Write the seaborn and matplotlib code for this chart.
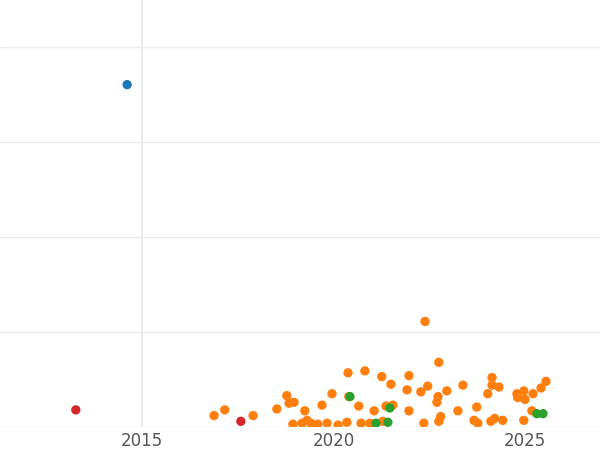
import matplotlib
matplotlib.use("Agg")
import matplotlib.pyplot as plt
import seaborn as sns
import pandas as pd

blue_x = [2014.61]; blue_y = [3.6]
red_x = [2013.27, 2017.58]; red_y = [0.18, 0.06]
green_x = [2020.43, 2021.47, 2021.11, 2021.42, 2025.31, 2025.47]
green_y = [0.32, 0.20, 0.04, 0.05, 0.14, 0.14]
orange_x = [2016.88, 2017.16, 2017.90, 2018.52, 2018.78, 2018.84, 2018.97, 2018.94, 2019.25, 2019.18,
            2019.31, 2019.41, 2019.59, 2019.70, 2019.83, 2019.96, 2020.12, 2020.38, 2020.35, 2020.40,
            2020.66, 2020.72, 2020.82, 2020.95, 2021.06, 2021.26, 2021.37, 2021.29, 2021.50, 2021.55,
            2021.92, 2021.97, 2021.97, 2022.28, 2022.36, 2022.39, 2022.46, 2022.75, 2022.73, 2022.70,
            2022.80, 2022.75, 2022.96, 2023.25, 2023.38, 2023.67, 2023.74, 2023.77, 2024.03, 2024.11,
            2024.14, 2024.14, 2024.21, 2024.32, 2024.42, 2024.79, 2024.81, 2024.97, 2025.00, 2024.97,
            2025.18, 2025.21, 2025.42, 2025.55]
orange_y = [0.12, 0.18, 0.12, 0.19, 0.33, 0.25, 0.26, 0.03, 0.17, 0.04,
            0.07, 0.04, 0.03, 0.23, 0.04, 0.35, 0.02, 0.57, 0.05, 0.32,
            0.22, 0.04, 0.59, 0.04, 0.17, 0.53, 0.22, 0.06, 0.45, 0.23,
            0.39, 0.54, 0.17, 0.37, 0.04, 1.11, 0.43, 0.68, 0.32, 0.26,
            0.11, 0.06, 0.38, 0.17, 0.44, 0.07, 0.21, 0.04, 0.35, 0.06,
            0.52, 0.44, 0.09, 0.42, 0.07, 0.35, 0.31, 0.38, 0.29, 0.07,
            0.17, 0.35, 0.41, 0.48]

df = pd.concat([
    pd.DataFrame({"x": orange_x, "y": orange_y, "g": "orange"}),
    pd.DataFrame({"x": green_x, "y": green_y, "g": "green"}),
    pd.DataFrame({"x": red_x, "y": red_y, "g": "red"}),
    pd.DataFrame({"x": blue_x, "y": blue_y, "g": "blue"}),
])
pal = {"blue": "#1f77b4", "orange": "#ff7f0e", "green": "#2ca02c", "red": "#d62728"}

sns.set_theme(style="whitegrid")
fig = plt.figure(figsize=(6, 4.5), dpi=100)
ax = fig.add_axes([0, 23/450, 1, 427/450])
sns.scatterplot(data=df, x="x", y="y", hue="g", palette=pal, s=45, linewidth=0, legend=False, ax=ax)
ax.set_xlim(2011.29, 2026.96)
ax.set_ylim(0, 4.49)
ax.set_xticks([2015, 2020, 2025])
ax.set_xticklabels(["2015", "2020", "2025"])
ax.set_yticks([0, 1, 2, 3, 4])
ax.set_yticklabels([])
ax.tick_params(axis="y", length=0)
ax.tick_params(axis="x", colors="#555555", labelsize=12, length=0)
ax.xaxis.grid(False)
ax.axvline(2015, color="#ebebeb", lw=1.5, zorder=0)
ax.grid(axis="y", color="#ebebeb")
for s in ax.spines.values():
    s.set_visible(False)
ax.set_xlabel(""); ax.set_ylabel("")
fig.savefig("out.png", dpi=100)
